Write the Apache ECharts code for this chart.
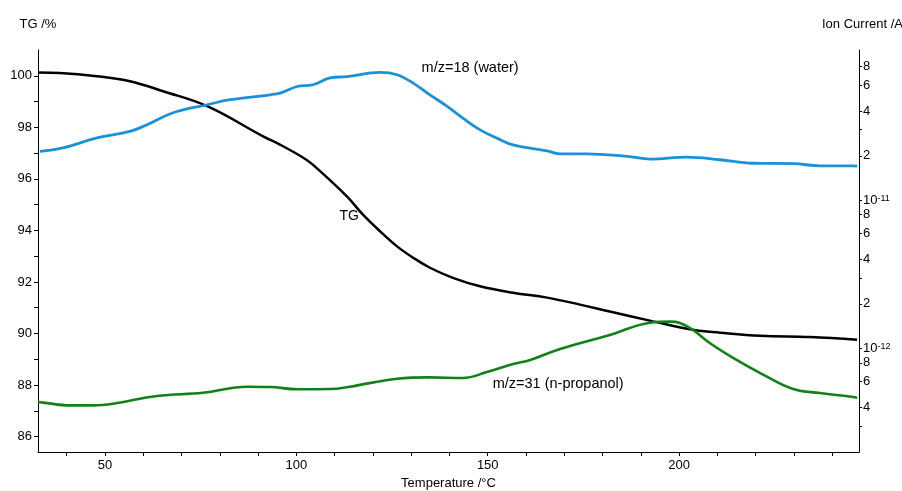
<!DOCTYPE html>
<html>
<head>
<meta charset="utf-8">
<script src="https://cdn.jsdelivr.net/npm/echarts@6/dist/echarts.min.js"></script>
<style>
  html, body { margin: 0; padding: 0; background: #fff; }
  #chart { width: 902px; height: 491px; }
</style>
</head>
<body>
<div id="chart"></div>
<script>
// TG mass curve (% of initial mass) vs. temperature (°C)
const tgTemperature = [32.5, 38.2, 47.9, 56.5, 65.2, 76.7, 91.3, 95.7, 101.7, 104.3, 113.2, 117.4, 121.9, 126.3, 130.5, 134.9, 140.9, 148.0, 156.6, 165.5, 174.1, 181.9, 193.2, 203.6, 210.7, 221.2, 234.2, 246.5];
const tgPercent = [100.13, 100.11, 99.98, 99.79, 99.40, 98.82, 97.65, 97.33, 96.83, 96.55, 95.32, 94.61, 93.96, 93.38, 92.94, 92.55, 92.16, 91.83, 91.58, 91.39, 91.12, 90.85, 90.47, 90.14, 90.03, 89.91, 89.86, 89.76];

// Ion current m/z=18 (water), A
const waterTemperature = [33.0, 39.0, 47.9, 56.5, 61.0, 67.8, 76.7, 82.7, 93.1, 95.7, 100.2, 104.3, 108.8, 113.2, 121.9, 126.3, 130.5, 134.9, 139.4, 143.5, 148.0, 152.4, 156.6, 165.5, 168.9, 175.9, 186.4, 192.4, 202.0, 210.7, 219.3, 229.8, 236.8, 245.5, 246.5];
const waterCurrent = [2.14e-11, 2.26e-11, 2.64e-11, 2.92e-11, 3.24e-11, 3.90e-11, 4.42e-11, 4.78e-11, 5.16e-11, 5.30e-11, 5.87e-11, 6.03e-11, 6.70e-11, 6.85e-11, 7.31e-11, 7.05e-11, 6.19e-11, 5.16e-11, 4.31e-11, 3.59e-11, 2.99e-11, 2.63e-11, 2.37e-11, 2.16e-11, 2.06e-11, 2.06e-11, 1.98e-11, 1.90e-11, 1.96e-11, 1.88e-11, 1.78e-11, 1.77e-11, 1.71e-11, 1.71e-11, 1.70e-11];

// Ion current m/z=31 (n-propanol), A
const propanolTemperature = [32.5, 33.8, 40.9, 46.9, 52.1, 63.6, 75.6, 87.1, 93.1, 100.2, 108.8, 114.0, 126.3, 134.9, 143.5, 149.8, 156.6, 161.1, 168.9, 181.9, 192.4, 197.6, 200.2, 203.6, 208.0, 214.1, 221.2, 229.8, 236.8, 245.5, 246.5];
const propanolCurrent = [4.35e-13, 4.31e-13, 4.13e-13, 4.13e-13, 4.24e-13, 4.78e-13, 5.02e-13, 5.52e-13, 5.50e-13, 5.30e-13, 5.32e-13, 5.52e-13, 6.25e-13, 6.38e-13, 6.32e-13, 6.93e-13, 7.85e-13, 8.36e-13, 9.93e-13, 1.233e-12, 1.493e-12, 1.517e-12, 1.486e-12, 1.334e-12, 1.089e-12, 8.63e-13, 6.82e-13, 5.32e-13, 5.00e-13, 4.70e-13, 4.63e-13];

// Axis ticks
const temperatureLabels = [50, 100, 150, 200];
const temperatureTicks = [40, 50, 60, 70, 80, 90, 100, 110, 120, 130, 140, 150, 160, 170, 180, 190, 200, 210, 220, 230, 240];
const tgLabels = [86, 88, 90, 92, 94, 96, 98, 100];
const tgTicks = [86, 87, 88, 89, 90, 91, 92, 93, 94, 95, 96, 97, 98, 99, 100];
const currentLabels = [4e-13, 6e-13, 8e-13, 1e-12, 2e-12, 4e-12, 6e-12, 8e-12, 1e-11, 2e-11, 4e-11, 6e-11, 8e-11];
const currentTicks = [3e-13, 4e-13, 6e-13, 8e-13, 1e-12, 2e-12, 3e-12, 4e-12, 6e-12, 8e-12, 1e-11, 2e-11, 3e-11, 4e-11, 6e-11, 8e-11];

// The ion current axis is laid out in decades (log10 of the current)
const lg = v => Math.log10(v);
const pairs = (xs, ys, f) => xs.map((x, i) => [x, f ? f(ys[i]) : ys[i]]);

const FONT = '"Liberation Sans", Arial, sans-serif';
const chart = echarts.init(document.getElementById('chart'), null, { renderer: 'canvas' });

const axisLineStyle = { color: '#000', width: 1 };

chart.setOption({
  backgroundColor: '#fff',
  animation: false,
  textStyle: { fontFamily: FONT },
  grid: { left: 38, right: 43, top: 50, bottom: 39, containLabel: false, outerBoundsMode: 'none' },
  xAxis: {
    type: 'value',
    min: 32.5,
    max: 247,
    name: 'Temperature /°C',
    nameLocation: 'middle',
    nameGap: 24,
    nameTextStyle: { fontSize: 13, color: '#000', fontFamily: FONT },
    axisLine: { show: true, onZero: false, lineStyle: axisLineStyle },
    axisTick: { show: true, length: 4, lineStyle: axisLineStyle, customValues: temperatureTicks },
    axisLabel: { fontSize: 13, color: '#000', margin: 7, customValues: temperatureLabels, fontFamily: FONT },
    splitLine: { show: false }
  },
  yAxis: [
    {
      type: 'value',
      position: 'left',
      min: 85.4,
      max: 101.0,
      name: 'TG /%',
      nameLocation: 'end',
      nameGap: 19,
      nameTextStyle: { fontSize: 13, color: '#000', fontFamily: FONT },
      axisLine: { show: true, onZero: false, lineStyle: axisLineStyle },
      axisTick: { show: true, length: 4, lineStyle: axisLineStyle, customValues: tgTicks },
      axisLabel: { fontSize: 13, color: '#000', margin: 6, customValues: tgLabels, fontFamily: FONT },
      splitLine: { show: false }
    },
    {
      type: 'value',
      position: 'right',
      min: lg(2e-13),
      max: -9.985,
      name: 'Ion Current /A',
      nameLocation: 'end',
      nameGap: 19,
      nameTextStyle: { fontSize: 13, color: '#000', fontFamily: FONT, align: 'left', padding: [0, 0, 0, -37] },
      axisLine: { show: true, onZero: false, lineStyle: axisLineStyle },
      axisTick: { show: true, length: 3, lineStyle: axisLineStyle, customValues: currentTicks.map(lg) },
      axisLabel: {
        color: '#000',
        margin: 4,
        fontSize: 13,
        fontFamily: FONT,
        customValues: currentLabels.map(lg),
        formatter: function (v) {
          const exp = Math.floor(v + 1e-6);
          const mant = Math.round(Math.pow(10, v - exp));
          if (mant === 1) return '{b|10}{s|' + exp + '}';
          return '{b|' + mant + '}';
        },
        rich: {
          b: { fontSize: 13, lineHeight: 13, padding: [3, 0, 0, 0], verticalAlign: 'bottom', color: '#000', fontFamily: FONT },
          s: { fontSize: 9, lineHeight: 9, verticalAlign: 'top', color: '#000', fontFamily: FONT }
        }
      },
      splitLine: { show: false }
    }
  ],
  series: [
    {
      name: 'TG',
      type: 'line',
      yAxisIndex: 0,
      data: pairs(tgTemperature, tgPercent),
      smooth: 0.4,
      showSymbol: false,
      lineStyle: { color: '#000000', width: 2.5 },
      markPoint: {
        symbol: 'circle',
        symbolSize: 0,
        label: { show: true, position: 'inside', formatter: 'TG', fontSize: 14, color: '#000', fontFamily: FONT },
        data: [{ coord: [113.8, 94.55] }]
      }
    },
    {
      name: 'm/z=18 (water)',
      type: 'line',
      yAxisIndex: 1,
      data: pairs(waterTemperature, waterCurrent, lg),
      smooth: 0.4,
      showSymbol: false,
      lineStyle: { color: '#1b92d8', width: 2.8 },
      markPoint: {
        symbol: 'circle',
        symbolSize: 0,
        label: { show: true, position: 'inside', formatter: 'm/z=18 (water)', fontSize: 14.5, color: '#000', fontFamily: FONT },
        data: [{ coord: [145.4, -10.107] }]
      }
    },
    {
      name: 'm/z=31 (n-propanol)',
      type: 'line',
      yAxisIndex: 1,
      data: pairs(propanolTemperature, propanolCurrent, lg),
      smooth: 0.4,
      showSymbol: false,
      lineStyle: { color: '#13801a', width: 2.6 },
      markPoint: {
        symbol: 'circle',
        symbolSize: 0,
        label: { show: true, position: 'inside', formatter: 'm/z=31 (n-propanol)', fontSize: 14.5, color: '#000', fontFamily: FONT },
        data: [{ coord: [168.4, -12.240] }]
      }
    }
  ]
});
</script>
</body>
</html>
